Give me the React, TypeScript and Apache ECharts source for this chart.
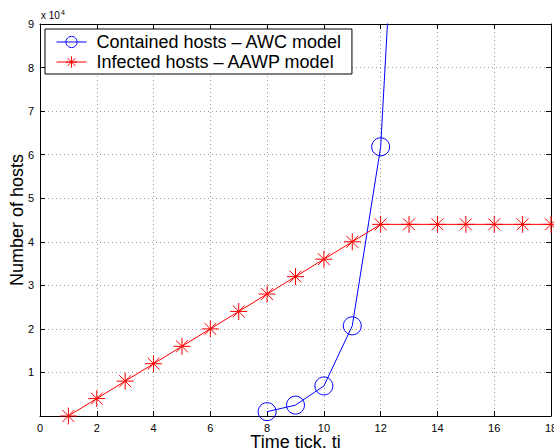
import React, { useEffect, useRef } from "react";
import * as echarts from "echarts";

const xContained = [8, 9, 10, 11, 12, 13];
const yContained = [1000, 2500, 6900, 20700, 61800, 180000];
const xInfected = [1, 2, 3, 4, 5, 6, 7, 8, 9, 10, 11, 12, 13, 14, 15, 16, 17, 18];
const yInfected = [0, 4000, 8000, 12000, 16000, 20000, 24000, 28000, 32000, 36000, 40000, 44000, 44000, 44000, 44000, 44000, 44000, 44000];
const seriesNames = ["Contained hosts \u2013 AWC model", "Infected hosts \u2013 AAWP model"];

const FONT = "Liberation Sans, Arial, Helvetica, sans-serif";
const ASTERISK = "path://M0 -1 L0 1 M-1 0 L1 0 M-0.7 -0.7 L0.7 0.7 M-0.7 0.7 L0.7 -0.7";

export default function App() {
  const ref = useRef<HTMLDivElement>(null);
  useEffect(() => {
    if (!ref.current) return;
    const chart = echarts.init(ref.current, null, { renderer: "svg" });
    const axisBase = {
      type: "value" as const,
      axisLine: { show: true, onZero: false, lineStyle: { color: "#000", width: 1 } },
      axisTick: { show: true, inside: true, length: 5, lineStyle: { color: "#000" } },
    };
    chart.setOption({
      animation: false,
      backgroundColor: "#fff",
      textStyle: { fontFamily: FONT },
      grid: { left: 40, right: 3, top: 24, bottom: 32, containLabel: false, outerBoundsMode: "none" },
      legend: {
        left: 45,
        top: 29,
        orient: "vertical",
        backgroundColor: "#fff",
        borderColor: "#000",
        borderWidth: 1,
        borderRadius: 0,
        padding: [3, 10, 2, 11],
        itemGap: 0,
        itemWidth: 30,
        itemHeight: 14,
        lineStyle: { width: 1 },
        itemStyle: { borderWidth: 1 },
        textStyle: { fontSize: 18, color: "#000", fontFamily: FONT, lineHeight: 20, padding: [0, 0, 0, 5] },
        data: seriesNames,
      },
      xAxis: [
        {
          ...axisBase,
          min: 0,
          max: 18,
          interval: 2,
          position: "bottom",
          name: "Time tick, ti",
          nameLocation: "middle",
          nameGap: 17,
          nameMoveOverlap: false,
          nameTextStyle: { fontSize: 18, color: "#000", fontFamily: FONT, verticalAlign: "top" },
          axisLabel: { fontSize: 11, color: "#000", margin: 6 },
          splitLine: { show: true, lineStyle: { color: "#999", type: [1, 3], width: 1 } },
        },
        {
          ...axisBase,
          min: 0,
          max: 18,
          interval: 2,
          position: "top",
          axisLabel: { show: false },
          splitLine: { show: false },
        },
      ],
      yAxis: [
        {
          ...axisBase,
          min: 0,
          max: 90000,
          interval: 10000,
          position: "left",
          name: "Number of hosts",
          nameLocation: "middle",
          nameGap: 14,
          nameMoveOverlap: false,
          nameRotate: 90,
          nameTextStyle: { fontSize: 18, color: "#000", fontFamily: FONT, verticalAlign: "bottom" },
          axisLabel: {
            fontSize: 11,
            color: "#000",
            margin: 6,
            formatter: (v: number) => (v === 0 ? "" : String(v / 10000)),
          },
          splitLine: { show: true, lineStyle: { color: "#999", type: [1, 3], width: 1 } },
        },
        {
          ...axisBase,
          min: 0,
          max: 90000,
          interval: 10000,
          position: "right",
          axisLabel: { show: false },
          splitLine: { show: false },
        },
      ],
      graphic: [
        {
          type: "text",
          left: 41,
          top: 9,
          style: {
            text: "x 10{s|4}",
            fontSize: 10,
            fontFamily: FONT,
            fill: "#000",
            rich: { s: { fontSize: 7, verticalAlign: "top", padding: [0, 0, 6, 1], fontFamily: FONT } },
          },
        },
      ],
      series: [
        {
          name: seriesNames[0],
          type: "line",
          xAxisIndex: 0,
          yAxisIndex: 0,
          data: xContained.map((x, i) => [x, yContained[i]]),
          symbol: "circle",
          symbolSize: 18,
          lineStyle: { color: "#0000ff", width: 1 },
          itemStyle: { color: "rgba(0,0,0,0)", borderColor: "#0000ff", borderWidth: 1 },
          clip: true,
          z: 3,
        },
        {
          name: seriesNames[1],
          type: "line",
          xAxisIndex: 0,
          yAxisIndex: 0,
          data: xInfected.map((x, i) => [x, yInfected[i]]),
          symbol: ASTERISK,
          symbolSize: 17,
          lineStyle: { color: "#ff0000", width: 1 },
          itemStyle: { color: "#ff0000", borderColor: "#ff0000", borderWidth: 1 },
          clip: true,
          z: 3,
        },
      ],
    });
    return () => chart.dispose();
  }, []);
  return <div ref={ref} style={{ position: "fixed", left: 0, top: 0, width: 554, height: 448 }} />;
}
